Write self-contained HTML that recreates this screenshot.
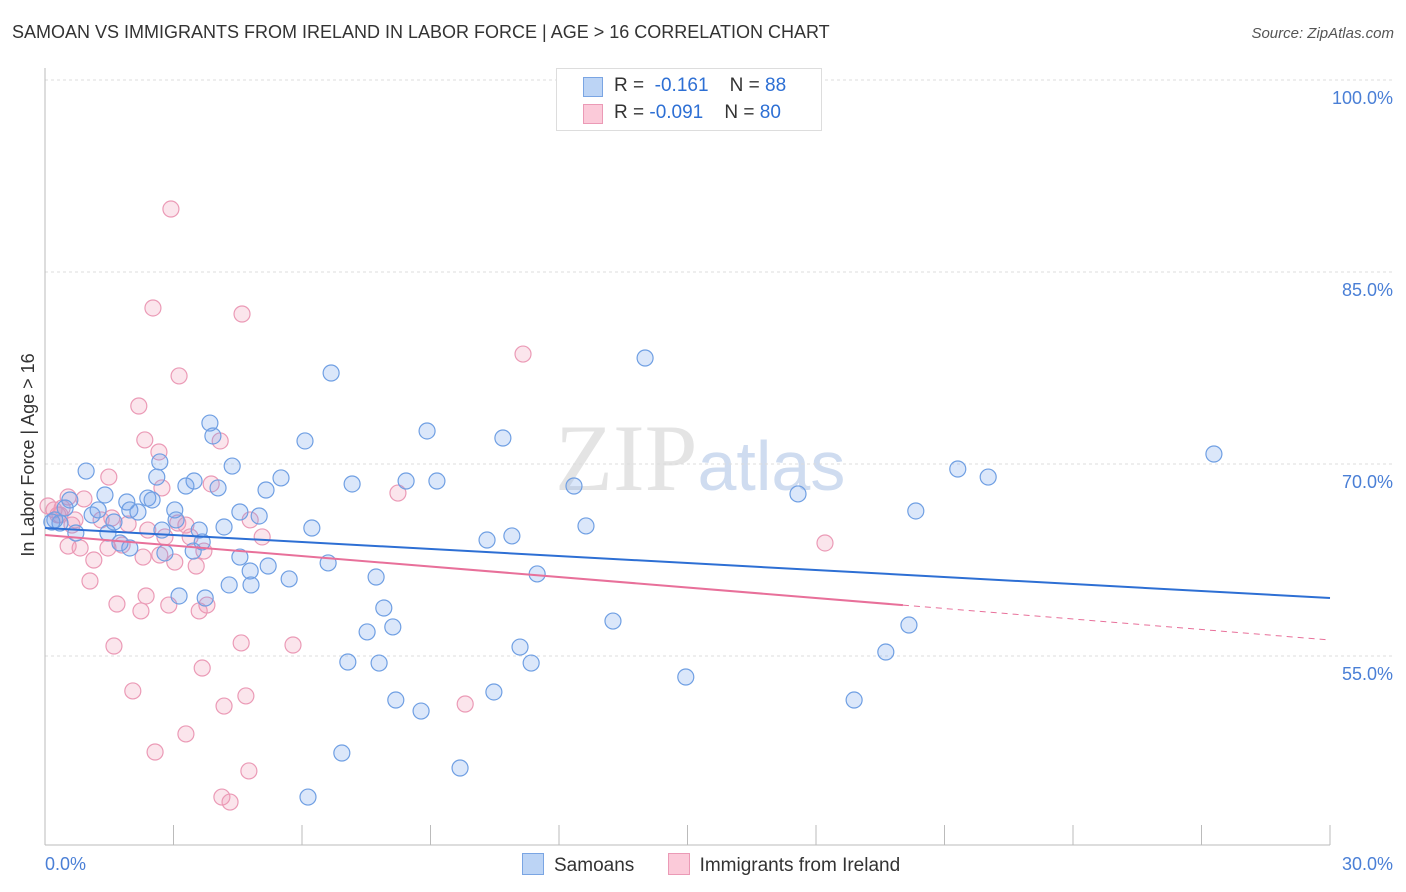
<!DOCTYPE html>
<html><head><meta charset="utf-8">
<style>
body{margin:0;background:#fff;font-family:"Liberation Sans",sans-serif;}
#wrap{position:relative;width:1406px;height:892px;overflow:hidden;}
.t{position:absolute;white-space:nowrap;}
</style></head>
<body><div id="wrap">
<div class="t" style="left:12px;top:22px;font-size:18px;color:#333;">SAMOAN VS IMMIGRANTS FROM IRELAND IN LABOR FORCE | AGE &gt; 16 CORRELATION CHART</div>
<div class="t" style="right:12px;top:25px;font-size:15px;color:#555;font-style:italic;">Source: ZipAtlas.com</div>
<svg id="svg" width="1406" height="892" style="position:absolute;left:0;top:0"></svg>
</div>
<script>
const blueX=[0.96,2.68,3.85,3.92,4.37,6.68,6.07,8.92,10.69,14.01,27.29,21.31,22.02,17.58,20.33,12.63,10.90,10.32,11.49,12.35,9.15,8.43,7.17,5.51,5.16,4.04,3.48,3.29,2.61,2.40,2.50,1.91,1.40,1.98,2.17,3.03,3.06,3.60,4.18,4.55,5.00,6.23,6.61,7.73,7.91,8.12,7.52,7.07,7.80,8.19,8.78,6.93,6.14,9.69,10.48,11.09,11.35,13.26,14.96,18.89,19.63,20.17,4.55,4.79,5.21,5.70,4.30,4.81,3.74,3.13,3.46,2.80,1.98,1.75,1.47,0.72,0.35,0.23,0.47,1.10,1.24,1.61,0.58,0.16,2.73,3.67];
const blueY=[69.45,70.16,73.20,72.19,69.84,77.11,71.80,72.58,72.03,78.28,70.78,69.61,68.98,67.66,66.33,65.16,64.38,64.06,61.41,68.28,68.67,68.67,68.44,68.91,67.97,68.13,68.67,68.28,68.98,67.34,67.19,67.03,67.58,66.41,66.25,66.41,65.63,64.84,65.08,66.25,65.94,65.00,62.27,61.17,58.75,57.27,56.88,54.53,54.45,51.56,50.70,47.42,43.98,46.25,52.19,55.70,54.45,57.73,53.36,51.56,55.31,57.42,62.73,61.64,62.03,61.02,60.55,60.55,59.53,59.69,63.20,63.05,63.44,63.83,64.61,64.61,65.39,65.63,66.56,66.02,66.41,65.47,67.19,65.47,64.84,63.91];
const pinkX=[2.94,2.52,4.60,11.16,3.13,2.19,2.33,4.09,2.66,2.73,1.49,3.88,8.24,18.21,0.54,0.91,0.40,0.07,0.30,0.70,1.31,1.56,1.94,2.40,2.80,3.29,3.39,3.71,3.03,3.53,3.10,4.79,5.07,0.82,1.14,1.47,1.80,2.29,2.68,0.54,1.05,1.68,2.24,2.36,2.89,3.78,3.60,1.61,4.58,5.79,3.67,2.05,4.69,4.18,9.81,3.29,2.57,4.76,4.13,4.32,0.35,0.63,0.21];
const pinkY=[89.92,82.19,81.72,78.59,76.88,74.53,71.88,71.80,70.94,68.13,68.98,68.44,67.73,63.83,67.42,67.27,66.56,66.72,66.02,65.63,65.63,65.78,65.31,64.84,64.30,65.23,64.30,63.20,62.34,62.03,65.39,65.63,64.30,63.44,62.50,63.44,63.67,62.73,62.89,63.59,60.86,59.06,58.52,59.69,58.98,58.98,58.52,55.78,56.02,55.86,54.06,52.27,51.88,51.09,51.25,48.91,47.50,46.02,43.98,43.59,66.02,65.23,66.41];
const yTicks=[100,85,70,55];
const yTickLabels=["100.0%","85.0%","70.0%","55.0%"];
const xTickLabels=["0.0%","30.0%"];
const blueTrend=[65.0,59.53];
const pinkTrend=[64.45,56.25];
const pinkSolidEnd=20.03;

const X0=45,X1=1330,YT=80;
const sx=v=>X0+(v/30)*(X1-X0);
const sy=v=>YT+(100-v)*12.8;
const svg=document.getElementById('svg');
const NS='http://www.w3.org/2000/svg';
function mk(tag,attrs,parent){const e=document.createElementNS(NS,tag);for(const k in attrs)e.setAttribute(k,attrs[k]);(parent||svg).appendChild(e);return e;}

// watermark
let wm=mk('text',{x:555,y:490,'font-size':95,'font-family':'Liberation Serif,serif',fill:'#e4e4e4'});


wm.innerHTML='ZIP<tspan font-family="Liberation Sans,sans-serif" font-size="70" fill="#cfdcf0">atlas</tspan>';

// gridlines and y labels
yTicks.forEach((v,i)=>{
  let g=mk('line',{x1:X0,x2:1395,y1:sy(v),y2:sy(v),stroke:'#ddd','stroke-dasharray':'3,3'});
  
  
  let t=mk('text',{x:1393,y:sy(v)+24,'text-anchor':'end','font-size':18,fill:'#4a7fd6'});
  
  
  t.textContent=yTickLabels[i];
});
let ax=mk('line',{x1:X0,x2:X0,y1:68,y2:845,stroke:'#bbb'});


let bx=mk('line',{x1:X0,x2:1330,y1:845,y2:845,stroke:'#bbb'});


for(let i=0;i<=10;i++){
  let tk=mk('line',{x1:sx(i*3),x2:sx(i*3),y1:825,y2:845,stroke:'#bbb'});
  
  
}
[[45,'start',0],[1393,'end',1]].forEach(([x,a,i])=>{
  let t=mk('text',{x:x,y:870,'text-anchor':a,'font-size':18,fill:'#4a7fd6'});
  
  
  t.textContent=xTickLabels[i];
});
let yl=mk('text',{x:34,y:455,'text-anchor':'middle','font-size':18,fill:'#333',transform:'rotate(-90 34 455)'});


yl.textContent='In Labor Force | Age > 16';

// points
pinkX.forEach((x,i)=>{
  let c=mk('circle',{cx:sx(x),cy:sy(pinkY[i]),r:8,fill:'rgba(240,150,180,0.25)',stroke:'#eb9ab6','stroke-width':1.2});
  
  
});
blueX.forEach((x,i)=>{
  let c=mk('circle',{cx:sx(x),cy:sy(blueY[i]),r:8,fill:'rgba(110,160,235,0.25)',stroke:'#6f9fe3','stroke-width':1.2});
  
  
});
// trend lines
let bt=mk('line',{x1:sx(0),y1:sy(blueTrend[0]),x2:sx(30),y2:sy(blueTrend[1]),stroke:'#2d6fd4','stroke-width':2});


const pY=x=>pinkTrend[0]+(pinkTrend[1]-pinkTrend[0])*x/30;
let pt=mk('line',{x1:sx(0),y1:sy(pY(0)),x2:sx(pinkSolidEnd),y2:sy(pY(pinkSolidEnd)),stroke:'#e8709a','stroke-width':2});


let pd=mk('line',{x1:sx(pinkSolidEnd),y1:sy(pY(pinkSolidEnd)),x2:sx(30),y2:sy(pY(30)),stroke:'#e8709a','stroke-width':1,'stroke-dasharray':'6,5'});


</script>
<div class="t" style="left:556px;top:68px;width:264px;height:61px;border:1px solid #ddd;background:#fff;font-size:19px;color:#333;">
  <div style="position:absolute;left:26px;top:8px;width:18px;height:18px;background:#bcd4f5;border:1px solid #7aa5e3"></div>
  <div style="position:absolute;left:57px;top:6px">R = <span style="color:#2d6fd4">&nbsp;-0.161</span>&nbsp;&nbsp;&nbsp; N = <span style="color:#2d6fd4">88</span></div>
  <div style="position:absolute;left:26px;top:35px;width:18px;height:18px;background:#fbcad9;border:1px solid #eb9ab6"></div>
  <div style="position:absolute;left:57px;top:33px">R = <span style="color:#2d6fd4">-0.091</span>&nbsp;&nbsp;&nbsp; N = <span style="color:#2d6fd4">80</span></div>
</div>
<div class="t" style="left:522px;top:853px;font-size:19px;color:#333;">
  <span><span style="display:inline-block;width:20px;height:20px;background:#bcd4f5;border:1px solid #7aa5e3;vertical-align:-4px;margin-right:10px"></span>Samoans</span>
  <span style="margin-left:28px"><span style="display:inline-block;width:20px;height:20px;background:#fbcad9;border:1px solid #eb9ab6;vertical-align:-4px;margin-right:10px"></span>Immigrants from Ireland</span>
</div>
</body></html>
